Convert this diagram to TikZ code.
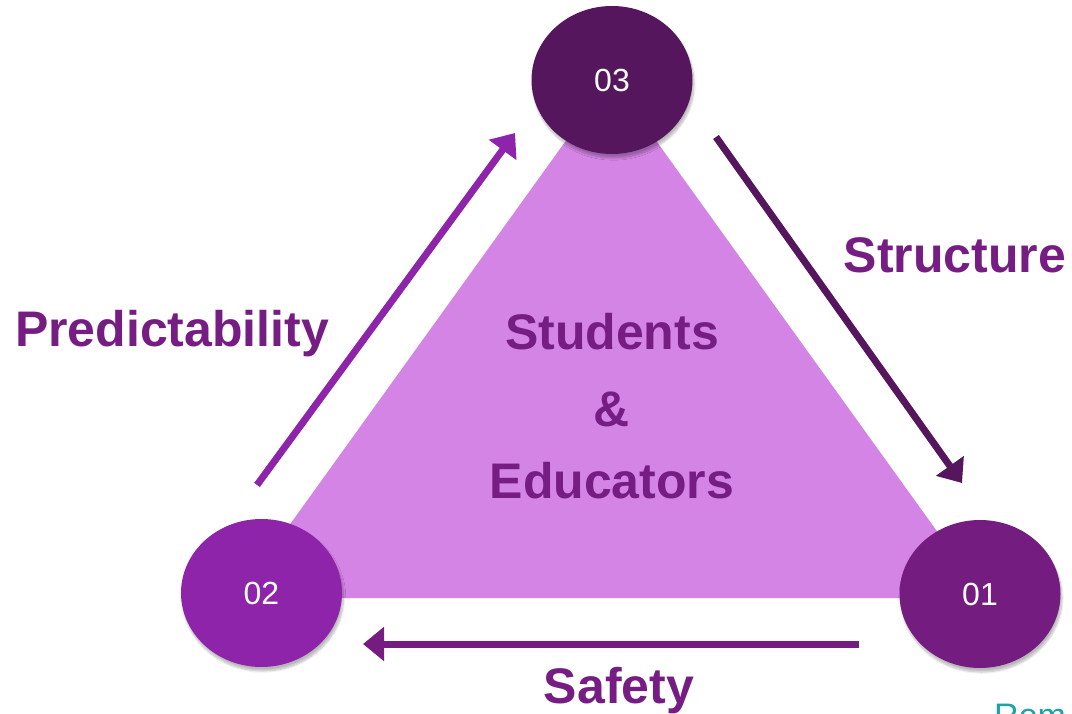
\documentclass[tikz,border=0pt]{standalone}
\usepackage{fontspec}
\setmainfont{Liberation Sans}
\usetikzlibrary{arrows.meta,shapes.geometric,shadows.blur}

\definecolor{triFill}{HTML}{D484E4}
\definecolor{deepPlum}{HTML}{55165E}
\definecolor{brightPlum}{HTML}{8E24AA}
\definecolor{midPlum}{HTML}{741C80}
\definecolor{labelPlum}{HTML}{761D84}
\definecolor{tealText}{HTML}{1AA3A8}

\tikzset{
  stage/.style={ellipse, minimum width=161pt, minimum height=148pt, inner sep=0pt,
    text=white, font=\fontsize{32}{36}\selectfont,
    blur shadow={shadow xshift=1.5pt, shadow yshift=-4pt, shadow blur steps=10, shadow opacity=28}},
  flow/.style={line width=7pt, -{Triangle[length=21pt,width=33pt]}},
  biglabel/.style={anchor=base, inner sep=0pt, text=labelPlum,
    font=\fontsize{50}{60}\selectfont\bfseries},
}

\begin{document}
\begin{tikzpicture}[x=1pt,y=-1pt]
  \useasboundingbox (0,0) rectangle (1072,714);

  % central triangle
  \coordinate (apex) at (611,78);
  \coordinate (baseL) at (237,598);
  \coordinate (baseR) at (985,598);
  \fill[triFill] (apex) -- (baseL) -- (baseR) -- cycle;

  % arrow end points along the sides
  \coordinate (upTail) at (257,485);
  \coordinate (upTip) at (515,133);
  \coordinate (downTail) at (716,137);
  \coordinate (downTip) at (962,483);
  \coordinate (backTail) at (859,644);
  \coordinate (backTip) at (363,644);

  \draw[flow, brightPlum] (upTail) -- (upTip);
  \draw[flow, deepPlum] (downTail) -- (downTip);
  \draw[flow, midPlum] (backTail) -- (backTip);

  % stage circles
  \node[stage, fill=deepPlum] (s3) at (612,80) {03};
  \node[stage, fill=brightPlum] (s2) at (261.5,593) {02};
  \node[stage, fill=midPlum] (s1) at (980,594) {01};

  % labels
  \node[biglabel] (pred) at (172,347) {Predictability};
  \node[biglabel] (struct) at (955,273) {Structure};
  \node[biglabel] (safe) at (619,703) {Safety};

  \node[biglabel] (stud) at (612,350) {Students};
  \node[biglabel] (amp) at (612,426) {\&};
  \node[biglabel] (edu) at (612,498) {Educators};

  % partly visible caption at the lower right edge
  \node[anchor=north west, inner sep=0pt, text=tealText,
    font=\fontsize{34}{40}\selectfont] (rem) at (994,704) {Rem};
\end{tikzpicture}
\end{document}
